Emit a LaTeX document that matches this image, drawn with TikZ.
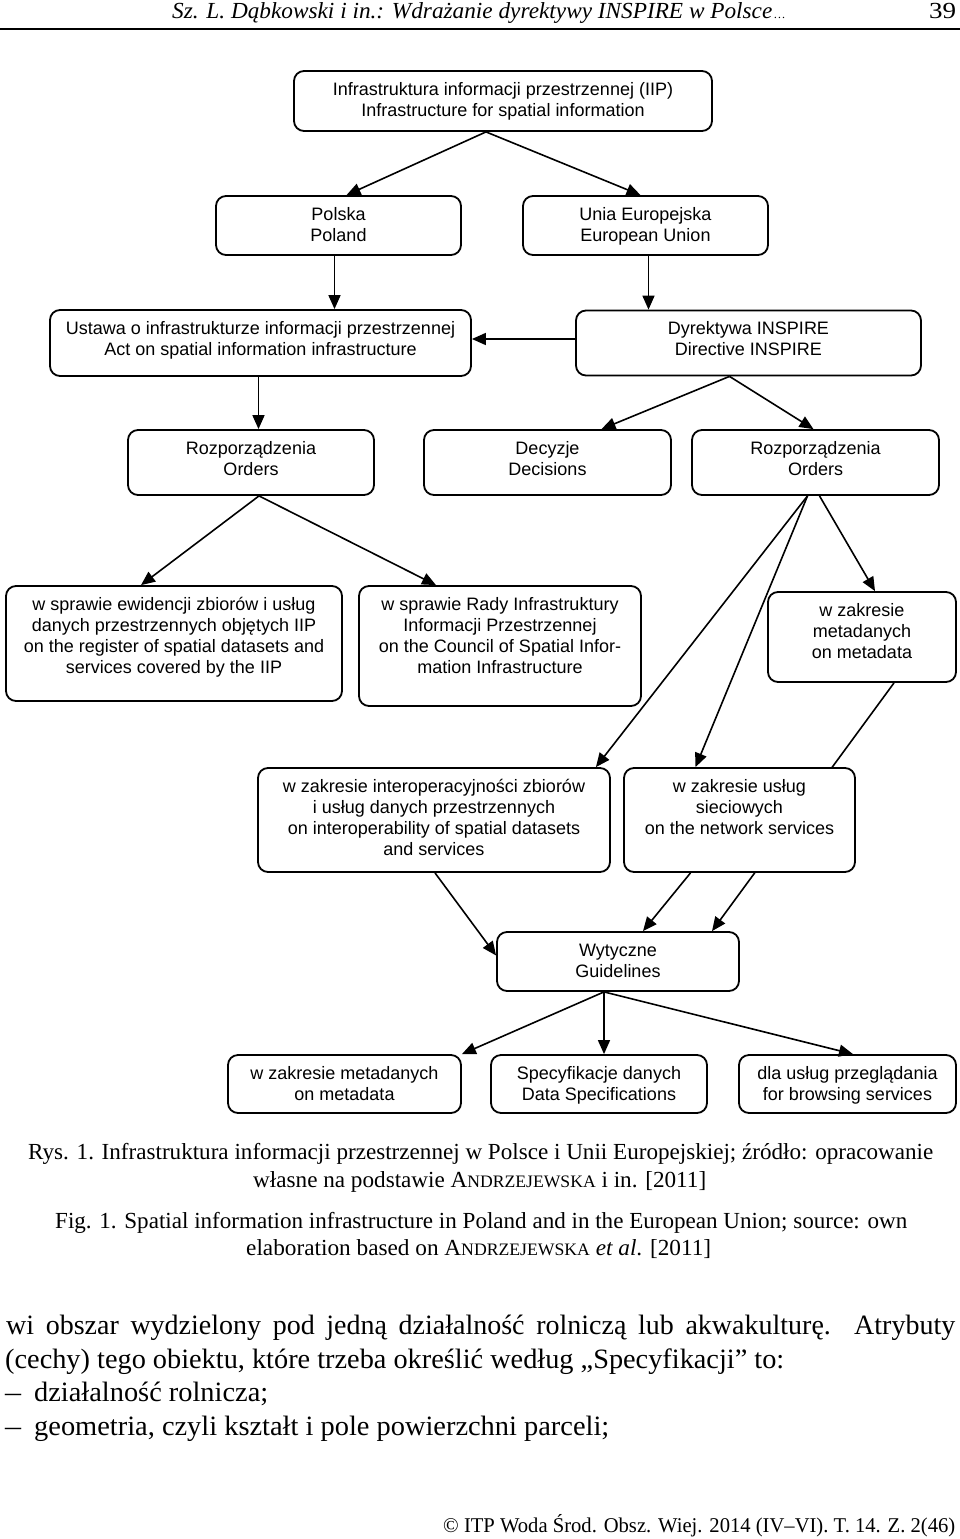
\documentclass[tikz,border=0pt]{standalone}
\usepackage{fontspec}
\usepackage{graphicx}
\setmainfont{Liberation Serif}
\newfontfamily\boxfont{Liberation Sans}
\usetikzlibrary{arrows.meta,backgrounds}

\tikzset{
  box/.style={draw, line width=1.8pt, rounded corners=10pt, fill=white, align=center,
    inner sep=0pt, font=\boxfont\fontsize{18}{21}\selectfont},
  link/.style={line width=1.6pt, -{Triangle[length=14pt,width=12pt]}},
  txt/.style={inner sep=0pt, anchor=base west}
}
\newcommand{\fitline}[2]{\resizebox{#1}{\height}{#2}}
\newcommand{\smcap}[1]{{\fontsize{17.5}{17.5}\selectfont #1}}

\begin{document}
\begin{tikzpicture}[x=1pt,y=-1pt]
  \useasboundingbox (0,0) rectangle (960,1539);

  % page head
  \node[txt] (head) at (172,19) {\fitline{613pt}{\fontsize{23}{24}\selectfont\itshape Sz. L. Dąbkowski i in.: Wdrażanie dyrektywy INSPIRE w Polsce{\fontsize{12}{12}\selectfont\,…}}};
  \node[txt] (pnum) at (929,19) {\fitline{27pt}{\fontsize{23}{24}\selectfont 39}};
  \draw[line width=2pt] (0,29) -- (960,29);

  % boxes
  \node[box, minimum width=418pt, text height=45pt, text depth=15pt] (iip) at (503,101) {Infrastruktura informacji przestrzennej (IIP)\\Infrastructure for spatial information};
  \node[box, minimum width=245pt, text height=45pt, text depth=14pt] (pl) at (338.5,225.5) {Polska\\Poland};
  \node[box, minimum width=245pt, text height=45pt, text depth=14pt] (ue) at (645.5,225.5) {Unia Europejska\\European Union};
  \node[box, minimum width=421pt, text height=45pt, text depth=21pt] (ust) at (260.5,343) {Ustawa o infrastrukturze informacji przestrzennej\\Act on spatial information infrastructure};
  \node[box, minimum width=345pt, text height=45pt, text depth=20pt] (dyr) at (748.5,343) {Dyrektywa INSPIRE\\Directive INSPIRE};

  \node[box, minimum width=246pt, text height=45pt, text depth=20pt] (rozA) at (251,462.5) {Rozporządzenia\\Orders};
  \node[box, minimum width=247pt, text height=45pt, text depth=20pt] (dec) at (547.5,462.5) {Decyzje\\Decisions};
  \node[box, minimum width=247pt, text height=45pt, text depth=20pt] (rozB) at (815.5,462.5) {Rozporządzenia\\Orders};

  \node[box, minimum width=336pt, text height=87pt, text depth=28pt] (ew) at (174,643.5) {w sprawie ewidencji zbiorów i usług\\danych przestrzennych objętych IIP\\on the register of spatial datasets and\\services covered by the IIP};
  \node[box, minimum width=282pt, text height=87pt, text depth=33pt] (rady) at (500,646) {w sprawie Rady Infrastruktury\\Informacji Przestrzennej\\on the Council of Spatial Infor-\\mation Infrastructure};
  \node[box, minimum width=188pt, text height=66pt, text depth=24pt] (meta) at (862,637) {w zakresie\\metadanych\\on metadata};

  \node[box, minimum width=352pt, text height=87pt, text depth=17pt] (io) at (434,820) {w zakresie interoperacyjności zbiorów\\i usług danych przestrzennych\\on interoperability of spatial datasets\\and services};
  \node[box, minimum width=231pt, text height=66pt, text depth=38pt] (siec) at (739.5,820) {w zakresie usług\\sieciowych\\on the network services};

  \node[box, minimum width=242pt, text height=45pt, text depth=14pt] (wyt) at (618,961.5) {Wytyczne\\Guidelines};

  \node[box, minimum width=233pt, text height=45pt, text depth=13pt] (mb) at (344.5,1084) {w zakresie metadanych\\on metadata};
  \node[box, minimum width=216pt, text height=45pt, text depth=13pt] (spec) at (599,1084) {Specyfikacje danych\\Data Specifications};
  \node[box, minimum width=217pt, text height=45pt, text depth=13pt] (przegl) at (847.5,1084) {dla usług przeglądania\\for browsing services};

  % connectors
  \draw[link] ([xshift=-17pt]iip.south) -- ([xshift=8pt]pl.north);
  \draw[link] ([xshift=-17pt]iip.south) -- ([xshift=-5pt]ue.north);
  \draw[link] ([xshift=-4pt]pl.south) -- ([xshift=-4pt]pl.south |- ust.north);
  \draw[link] ([xshift=3pt]ue.south) -- ([xshift=3pt]ue.south |- dyr.north);
  \draw[link] ([yshift=4pt]dyr.west) -- ([yshift=4pt]dyr.west -| ust.east);
  \draw[link] ([xshift=-2pt]ust.south) -- ([xshift=-2pt]ust.south |- rozA.north);
  \draw[link] ([xshift=-19pt]dyr.south) -- ([xshift=54pt]dec.north);
  \draw[link] ([xshift=-19pt]dyr.south) -- ([xshift=-2pt]rozB.north);
  \draw[link] ([xshift=8pt]rozA.south) -- ([xshift=-33pt]ew.north);
  \draw[link] ([xshift=8pt]rozA.south) -- ([xshift=-64pt]rady.north);
  \draw[link] ([xshift=-8pt]rozB.south) -- ([xshift=-15pt]io.north east);
  \draw[link] ([xshift=-8pt]rozB.south) -- ([xshift=-44pt]siec.north);
  \draw[link] ([xshift=4pt]rozB.south) -- ([xshift=13pt]meta.north);
  \begin{pgfonlayer}{background}
    \draw[link] ([xshift=32pt]meta.south) -- ([xshift=94pt]wyt.north);
  \end{pgfonlayer}
  \draw[link] ([xshift=1pt]io.south) -- ([yshift=6pt]wyt.west);
  \draw[link] ([xshift=-49pt]siec.south) -- ([xshift=25pt]wyt.north);
  \draw[link] ([xshift=-14pt]wyt.south) -- (mb.north east);
  \foreach \n/\dx in {spec/5pt,przegl/5.5pt} {
    \draw[link] ([xshift=-14pt]wyt.south) -- ([xshift=\dx]\n.north);
  }

  % caption
  \node[txt] (cap1) at (28,1159) {\fitline{905pt}{\fontsize{23}{27}\selectfont Rys. 1. Infrastruktura informacji przestrzennej w Polsce i Unii Europejskiej; źródło: opracowanie}};
  \node[txt] (cap2) at (253,1187) {\fitline{453pt}{\fontsize{23}{27}\selectfont własne na podstawie A\smcap{NDRZEJEWSKA} i in. [2011]}};
  \node[txt] (cap3) at (55,1228) {\fitline{852pt}{\fontsize{23}{27}\selectfont Fig. 1. Spatial information infrastructure in Poland and in the European Union; source: own}};
  \node[txt] (cap4) at (246,1255) {\fitline{465pt}{\fontsize{23}{27}\selectfont elaboration based on A\smcap{NDRZEJEWSKA} \textit{et al}. [2011]}};

  % running text
  \node[txt] (par1) at (6,1334) {\fontsize{28}{34}\selectfont\makebox[949pt][s]{wi obszar wydzielony pod jedną działalność rolniczą lub akwakulturę. Atrybuty}};
  \node[txt] (par2) at (5,1368) {\fitline{779pt}{\fontsize{28}{34}\selectfont (cechy) tego obiektu, które trzeba określić według „Specyfikacji” to:}};
  \foreach \y/\w/\s in {1401/234pt/działalność rolnicza;, 1435/575pt/{geometria, czyli kształt i pole powierzchni parceli;}} {
    \node[txt] at (5,\y) {\fitline{16pt}{\fontsize{28}{34}\selectfont –}};
    \node[txt] at (34,\y) {\fitline{\w}{\fontsize{28}{34}\selectfont \s}};
  }

  % page foot
  \node[txt] (foot) at (443,1532) {\fitline{512pt}{\fontsize{21}{24}\selectfont © ITP Woda Środ. Obsz. Wiej. 2014 (IV–VI). T. 14. Z. 2(46)}};
\end{tikzpicture}
\end{document}
